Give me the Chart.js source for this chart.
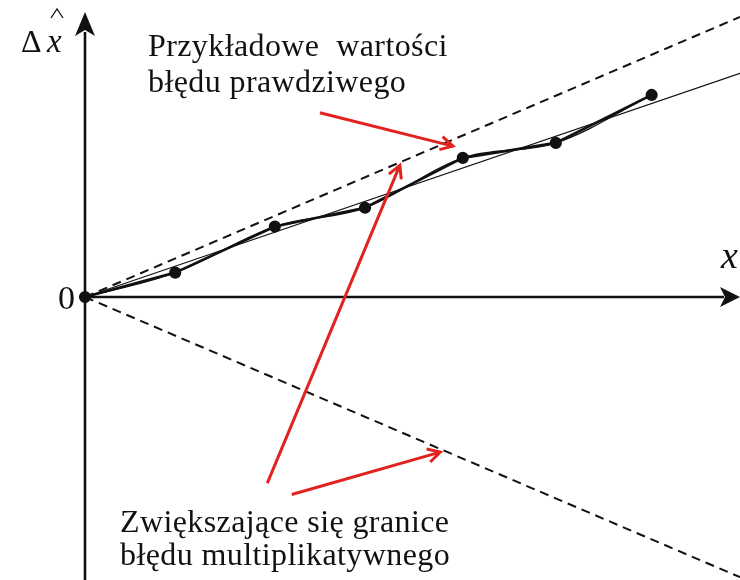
<!DOCTYPE html>
<html>
<head>
<meta charset="utf-8">
<script src="https://cdn.jsdelivr.net/npm/chart.js@4.4.1/dist/chart.umd.min.js"></script>
<style>
  html, body { margin: 0; padding: 0; background: #fff; }
  #wrap { width: 740px; height: 580px; position: relative; }
</style>
</head>
<body>
<div id="wrap"><canvas id="chart"></canvas></div>
<script>
// measured true-error samples
const sampleX = [0, 0.96, 2.02, 2.98, 4.02, 5.01, 6.03];
const sampleY = [0, 0.26, 0.75, 0.95, 1.48, 1.64, 2.15];

// axis extents (x right edge, y top / bottom)
const xRange = [0, 6.97];
const yRange = [-3.01, 3.16];

// straight trend through the samples, and the growing error limits
const trendEnd = [6.97, 2.38];
const upperEnd = [6.97, 2.98];
const lowerEnd = [6.97, -2.98];

// red callout arrows: [fromX, fromY, toX, toY]
const arrowTrue = [2.50, 1.96, 3.915, 1.606];
const arrowUpper = [1.94, -1.98, 3.35, 1.40];
const arrowLower = [2.20, -2.10, 3.78, -1.65];

const ink = "#111";
const red = "#e0231f";
const serif = "'Liberation Serif', 'DejaVu Serif', serif";

const pts = sampleX.map((x, i) => ({ x, y: sampleY[i] }));
const seg = end => [{ x: 0, y: 0 }, { x: end[0], y: end[1] }];

const line = (data, extra) => ({
	data,
	showLine: true,
	borderColor: ink,
	backgroundColor: ink,
	pointRadius: 0,
	clip: false,
	...extra,
});

const head = (ctx, x1, y1, x2, y2, len, spread) => {
	const a = Math.atan2(y2 - y1, x2 - x1);
	ctx.beginPath();
	ctx.moveTo(x2 - len * Math.cos(a - spread), y2 - len * Math.sin(a - spread));
	ctx.lineTo(x2, y2);
	ctx.lineTo(x2 - len * Math.cos(a + spread), y2 - len * Math.sin(a + spread));
	ctx.stroke();
};

const filledHead = (ctx, tx, ty, dx, dy, len, half) => {
	// dx,dy: unit direction of the arrow
	ctx.beginPath();
	ctx.moveTo(tx, ty);
	ctx.lineTo(tx - dx * len - dy * half, ty - dy * len + dx * half);
	ctx.lineTo(tx - dx * len * 0.75, ty - dy * len * 0.75);
	ctx.lineTo(tx - dx * len + dy * half, ty - dy * len - dx * half);
	ctx.closePath();
	ctx.fill();
};

const axesAndLabels = {
	id: "axesAndLabels",
	beforeDatasetsDraw(chart) {
		const { ctx, scales } = chart;
		const ox = scales.x.getPixelForValue(0);
		const oy = scales.y.getPixelForValue(0);
		ctx.save();
		ctx.strokeStyle = ink;
		ctx.fillStyle = ink;
		ctx.lineWidth = 2.6;
		// x axis
		ctx.beginPath();
		ctx.moveTo(ox, oy);
		ctx.lineTo(724, oy);
		ctx.stroke();
		filledHead(ctx, 740, oy, 1, 0, 20, 10);
		// y axis
		ctx.beginPath();
		ctx.moveTo(ox, 580);
		ctx.lineTo(ox, 32);
		ctx.stroke();
		filledHead(ctx, ox, 12, 0, -1, 24, 10);
		ctx.restore();
	},
	afterDatasetsDraw(chart) {
		const { ctx, scales } = chart;
		const px = v => scales.x.getPixelForValue(v);
		const py = v => scales.y.getPixelForValue(v);
		ctx.save();

		// callout arrows
		ctx.strokeStyle = red;
		ctx.lineWidth = 3;
		ctx.lineCap = "butt";
		ctx.lineJoin = "miter";
		[arrowTrue, arrowUpper, arrowLower].forEach(a => {
			const x1 = px(a[0]), y1 = py(a[1]), x2 = px(a[2]), y2 = py(a[3]);
			ctx.beginPath();
			ctx.moveTo(x1, y1);
			ctx.lineTo(x2, y2);
			ctx.stroke();
			head(ctx, x1, y1, x2, y2, 14, 0.5);
		});

		// texts
		ctx.fillStyle = ink;
		ctx.textBaseline = "alphabetic";
		ctx.textAlign = "left";
		ctx.font = `32px ${serif}`;
		ctx.letterSpacing = "0.4px";
		ctx.fillText("Przykładowe  wartości", 148, 56);
		ctx.fillText("błędu prawdziwego", 148, 92);
		ctx.fillText("Zwiększające się granice", 120, 532);
		ctx.fillText("błędu multiplikatywnego", 120, 565);
		ctx.letterSpacing = "0px";

		ctx.font = `32px ${serif}`;
		ctx.fillText("\u0394", 21, 52);
		ctx.font = `italic 33px ${serif}`;
		ctx.fillText("x", 47, 52);
		ctx.strokeStyle = ink;
		ctx.lineWidth = 1.3;
		ctx.beginPath();
		ctx.moveTo(51, 18);
		ctx.lineTo(57, 9);
		ctx.lineTo(63, 18);
		ctx.stroke();

		ctx.font = `italic 38px ${serif}`;
		ctx.fillText("x", 721, 268);

		ctx.font = `34px ${serif}`;
		ctx.textAlign = "right";
		ctx.fillText("0", 75, 309);
		ctx.restore();
	},
};

new Chart(document.getElementById("chart"), {
	type: "scatter",
	data: {
		datasets: [
			line(seg(trendEnd), { borderWidth: 1.1 }),
			line(seg(upperEnd), { borderWidth: 2, borderDash: [9, 6] }),
			line(seg(lowerEnd), { borderWidth: 2, borderDash: [9, 6] }),
			line(pts, { borderWidth: 1.4, tension: 0.35 }),
			line(pts, { borderWidth: 2.6, pointRadius: 4.8, pointHoverRadius: 4.8 }),
		],
	},
	options: {
		responsive: true,
		maintainAspectRatio: false,
		animation: false,
		layout: { autoPadding: false, padding: { left: 85, right: 0, top: 0, bottom: 0 } },
		plugins: {
			legend: { display: false },
			tooltip: { enabled: false },
		},
		scales: {
			x: { type: "linear", min: xRange[0], max: xRange[1], display: false },
			y: { type: "linear", min: yRange[0], max: yRange[1], display: false },
		},
	},
	plugins: [axesAndLabels],
});
</script>
</body>
</html>
